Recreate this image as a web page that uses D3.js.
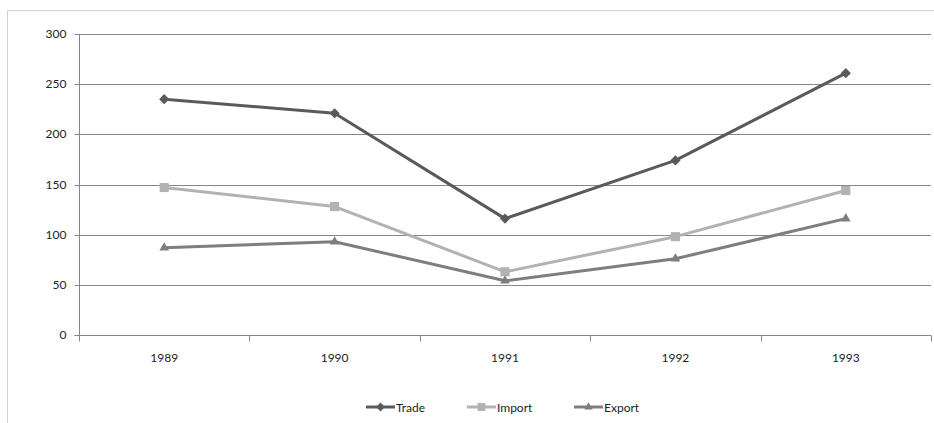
<!DOCTYPE html>
<html><head><meta charset="utf-8">
<script src="https://cdn.jsdelivr.net/npm/d3@7"></script>
<style>body{margin:0;background:#fff}svg{display:block}text{font-family:Lato,"Open Sans",sans-serif}</style>
</head><body><svg id="c" width="934" height="423"></svg>
<script>
const years = ["1989","1990","1991","1992","1993"];
const trade = [235, 221, 116, 174, 261];
const importV = [147, 128, 63, 98, 144];
const exportV = [87, 93, 54, 76, 116];
const yTicks = [0, 50, 100, 150, 200, 250, 300];
const seriesNames = ["Trade", "Import", "Export"];

const series = [
  {name: seriesNames[0], values: trade, color: "#5a5a5a", marker: "diamond"},
  {name: seriesNames[1], values: importV, color: "#b2b2b2", marker: "square"},
  {name: seriesNames[2], values: exportV, color: "#7e7e7e", marker: "triangle"}
];

const svg = d3.select("#c");
const L = 79, R = 931, T = 34, B = 335;
const x = d3.scaleBand().domain(years).range([L, R]);
const y = d3.scaleLinear().domain([0, 300]).range([B, T]);

// outer border
svg.append("path").attr("d", `M7.5,423 V10.5 H934`).attr("fill","none").attr("stroke","#d0d0d0");

// gridlines
svg.append("g").selectAll("line").data(yTicks.filter(d=>d>0)).join("line")
  .attr("x1", L).attr("x2", R).attr("y1", d=>Math.round(y(d))+0.5).attr("y2", d=>Math.round(y(d))+0.5)
  .attr("stroke", "#868686");

// y axis
const ya = svg.append("g").attr("transform", `translate(${L+0.5},0)`)
  .call(d3.axisLeft(y).tickValues(yTicks).tickSize(5).tickPadding(8));
ya.select(".domain").attr("stroke","#868686").attr("d", `M-5,${Math.round(B)+0.5}H0V${T}`);
ya.selectAll(".tick line").attr("stroke","#868686");
ya.selectAll(".tick").attr("transform", d=>`translate(0,${Math.round(y(d))+0.5})`);
ya.selectAll("text").attr("font-size", 12).attr("fill","#222");

// x axis
const xa = svg.append("g").attr("transform", `translate(0,${Math.round(B)+0.5})`);
xa.append("line").attr("x1", L).attr("x2", R).attr("stroke","#868686");
const bounds = years.map(d=>x(d)).concat([R]);
xa.selectAll("line.t").data(bounds).join("line").attr("class","t")
  .attr("x1", d=>Math.round(d)+0.5).attr("x2", d=>Math.round(d)+0.5).attr("y1",0).attr("y2",6)
  .attr("stroke","#868686");
xa.selectAll("text").data(years).join("text")
  .attr("x", d=>x(d)+x.bandwidth()/2).attr("y", 26).attr("text-anchor","middle")
  .attr("font-size", 12).attr("fill","#222").text(d=>d);

const cx = d => x(d) + x.bandwidth()/2;
function marker(g, type, color, size) {
  let p;
  if (type === "diamond") p = d3.symbol(d3.symbolDiamond2, size*size*0.5)();
  else if (type === "square") p = d3.symbol(d3.symbolSquare2, size*size*0.8)();
  else p = d3.symbol(d3.symbolTriangle2, size*size*0.5)();
  return g.append("path").attr("d", p).attr("fill", color);
}

const line = d3.line().x((d,i)=>cx(years[i])).y(d=>y(d));
series.forEach(s => {
  const g = svg.append("g");
  g.append("path").datum(s.values).attr("d", line).attr("fill","none")
    .attr("stroke", s.color).attr("stroke-width", 3).attr("stroke-linejoin","round");
  s.values.forEach((v,i) => {
    marker(g, s.marker, s.color, 11.5).attr("transform", `translate(${cx(years[i])},${y(v)})`);
  });
});

// legend
const legX = [366, 467, 574];
series.forEach((s,i) => {
  const g = svg.append("g").attr("transform", `translate(${legX[i]},407)`);
  g.append("line").attr("x1",0).attr("x2",29).attr("stroke", s.color).attr("stroke-width",3);
  marker(g, s.marker, s.color, 10).attr("transform","translate(14.5,0)");
  g.append("text").attr("x", 30).attr("y", 4.5).attr("font-size", 12).attr("fill","#222").text(s.name);
});
</script></body></html>
